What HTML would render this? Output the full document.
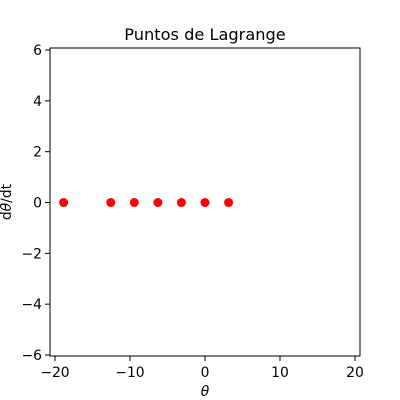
<!DOCTYPE html>
<html><head><meta charset="utf-8"><style>body{margin:0;background:#fff}svg{display:block;font-family:"DejaVu Sans","Liberation Sans",sans-serif}</style></head>
<body>
<svg id="c" width="400" height="400"></svg>
<script>
const xValues=[-18.85,-12.566,-9.425,-6.283,-3.142,0,3.142];
const yValues=[0,0,0,0,0,0,0];
const xTicks=[-20,-10,0,10,20];
const yTicks=[-6,-4,-2,0,2,4,6];
const L=50,R=360,T=48,B=356;
const xmin=-20.667,xmax=20.667,ymin=-6.04,ymax=6.08;
const sx=v=>L+(v-xmin)/(xmax-xmin)*(R-L);
const sy=v=>B-(v-ymin)/(ymax-ymin)*(B-T);
const svg=document.getElementById('c');
const NS='http://www.w3.org/2000/svg';
function mk(t,a,p){const e=document.createElementNS(NS,t);for(const k in a)e.setAttribute(k,a[k]);(p||svg).appendChild(e);return e;}
const frame=mk('rect',{x:L,y:T,width:R-L,height:B-T,fill:'none',stroke:'#000','stroke-width':1});


xTicks.forEach(v=>{const x=sx(v);
const tk=mk('line',{x1:x,x2:x,y1:B,y2:B+5,stroke:'#000'});


const t=mk('text',{x:x,y:B+21,'text-anchor':'middle','font-size':13.9});t.textContent=String(v).replace('-','\u2212');

});
yTicks.forEach(v=>{const y=sy(v);
const tk=mk('line',{x1:L-5,x2:L,y1:y,y2:y,stroke:'#000'});


const t=mk('text',{x:L-8,y:y+5,'text-anchor':'end','font-size':13.9});t.textContent=String(v).replace('-','\u2212');

});
xValues.forEach((v,i)=>{const c=mk('circle',{cx:sx(v),cy:sy(yValues[i]),r:4.5,fill:'#ff0000'});

});
const ti=mk('text',{x:205,y:40,'text-anchor':'middle','font-size':16.2});ti.textContent='Puntos de Lagrange';


const xl=mk('text',{x:205,y:396,'text-anchor':'middle','font-size':13.9,'font-style':'italic'});xl.textContent='θ';


const yl=mk('text',{x:0,y:0,'text-anchor':'middle','font-size':13.9,transform:'translate(11,202) rotate(-90)'});yl.innerHTML='d<tspan font-style="italic">θ</tspan>/dt';


</script>
</body></html>
